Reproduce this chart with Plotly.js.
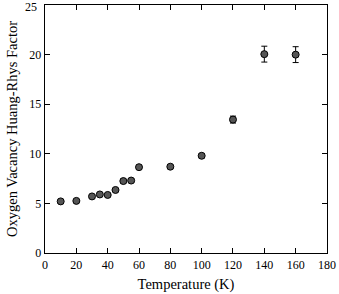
<!DOCTYPE html>
<html>
<head>
<meta charset="utf-8">
<script src="https://cdn.plot.ly/plotly-3.0.1.min.js"></script>
<style>html,body{margin:0;padding:0;background:#fff;}#chart{width:339px;height:294px;}</style>
</head>
<body>
<div id="chart"></div>
<script>
const temperature = [10, 20, 30, 35, 40, 45, 50, 55, 60, 80, 100, 120, 140, 160];
const huangRhys = [5.2, 5.25, 5.7, 5.9, 5.85, 6.35, 7.25, 7.3, 8.65, 8.7, 9.8, 13.45, 20.05, 20.0];
const errors = [0.15, 0.15, 0.15, 0.15, 0.15, 0.15, 0.2, 0.2, 0.2, 0.15, 0.2, 0.35, 0.8, 0.8];
const xTicks = [0, 20, 40, 60, 80, 100, 120, 140, 160, 180];
const yTicks = [0, 5, 10, 15, 20, 25];

const fam = '"Liberation Serif", "DejaVu Serif", serif';
const tickFont = {family: fam, size: 12, color: '#000'};
const titleFont = {family: fam, size: 14.5, color: '#000'};
const yMax = yTicks[yTicks.length - 1];

Plotly.newPlot('chart', [{
  x: temperature,
  y: huangRhys,
  type: 'scatter',
  mode: 'markers',
  marker: {size: 7, color: '#555', line: {color: '#000', width: 1}},
  error_y: {type: 'data', array: errors, visible: true, color: '#000', thickness: 1, width: 3},
  showlegend: false
}], {
  width: 339, height: 294,
  margin: {l: 45, r: 12, t: 5, b: 41},
  paper_bgcolor: '#fff', plot_bgcolor: '#fff',
  font: tickFont,
  xaxis: {
    range: [-0.01, 180.01], tickvals: xTicks, ticktext: xTicks.map(String), tickfont: tickFont,
    ticks: 'inside', ticklen: 5, tickcolor: '#000', mirror: 'ticks',
    showline: true, linecolor: '#000', linewidth: 1.3, showgrid: false, zeroline: false,
    title: {text: 'Temperature (K)', font: titleFont, standoff: 8}
  },
  yaxis: {
    range: [-0.005, 25.005], tickvals: yTicks,
    ticktext: yTicks.map(v => v === yMax ? '' : String(v)), tickfont: tickFont,
    ticks: 'inside', ticklen: 5, tickcolor: '#000', mirror: 'ticks',
    showline: true, linecolor: '#000', linewidth: 1.3, showgrid: false, zeroline: false,
    title: {text: 'Oxygen Vacancy Huang-Rhys Factor', font: titleFont, standoff: 8}
  },
  annotations: [{
    text: String(yMax), xref: 'paper', yref: 'y', x: 0, y: yMax,
    xanchor: 'right', yanchor: 'middle', xshift: -6, yshift: -2, showarrow: false, font: tickFont
  }]
}, {displayModeBar: false, staticPlot: true});
</script>
</body>
</html>
